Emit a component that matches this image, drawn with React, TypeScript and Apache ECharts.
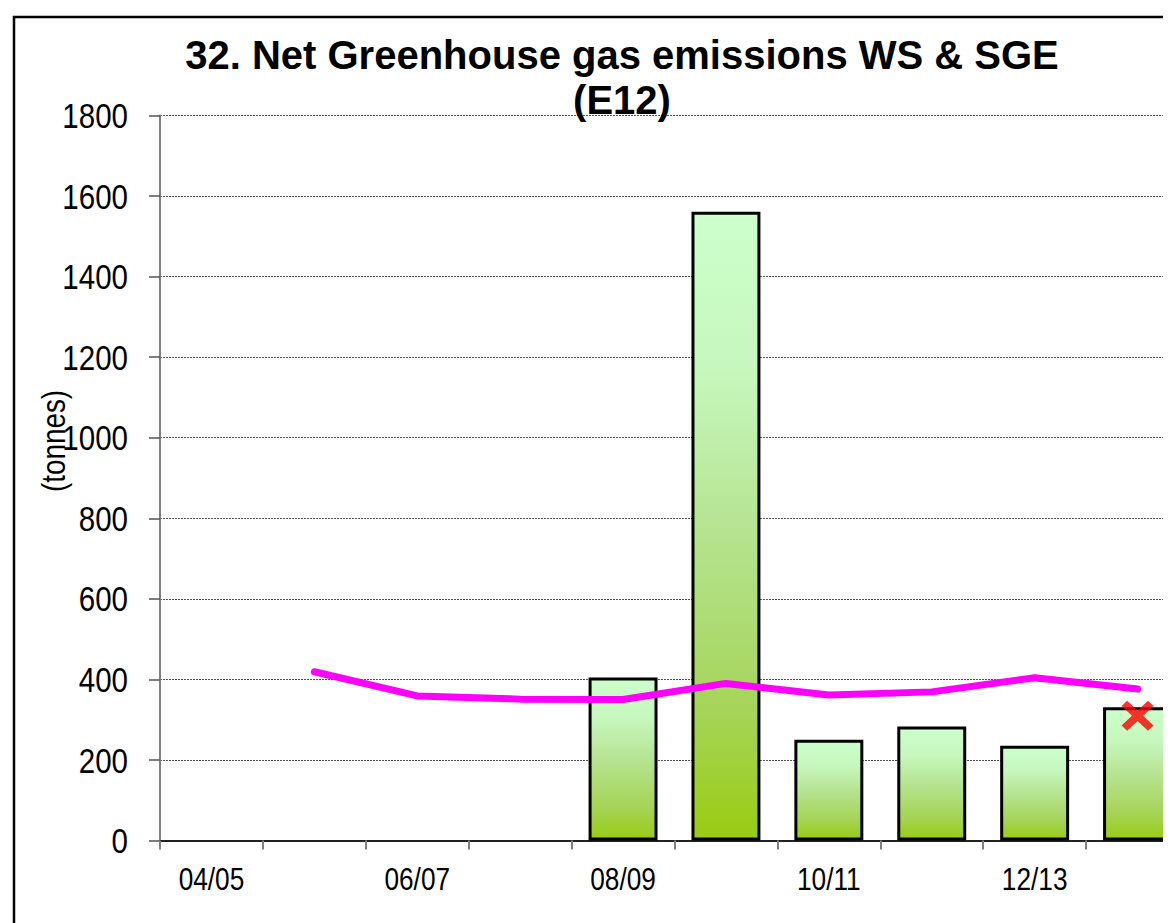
import React, { useEffect, useRef } from "react";
import * as echarts from "echarts";

const categories = ["04/05", "05/06", "06/07", "07/08", "08/09", "09/10", "10/11", "11/12", "12/13", "13/14"];
const xTickLabels = ["04/05", "06/07", "08/09", "10/11", "12/13"];
const barValues: (number | null)[] = [null, null, null, null, 405, 1561, 250, 283, 235, 331];
const lineValues: (number | null)[] = [null, 419, 359, 351, 350, 390, 361, 369, 404, 376];
const targetValues: (number | null)[] = [null, null, null, null, null, null, null, null, null, 310];
const yTickLabels = [0, 200, 400, 600, 800, 1000, 1200, 1400, 1600, 1800];
const yMin = 0;
const yMax = 1800;
const yInterval = 200;

const titleText = "32. Net Greenhouse gas emissions WS & SGE\n(E12)";
const yName = "(tonnes)";

const SANS = "'Liberation Sans', Arial, sans-serif";
const NARROW_SCALE = 0.82;

export default function App() {
  const ref = useRef<HTMLDivElement>(null);
  useEffect(() => {
    if (!ref.current) return;
    const chart = echarts.init(ref.current, undefined, { renderer: "svg" });
    const baseGraphics: any[] = [
      {
        id: "frame",
        type: "rect",
        shape: { x: 6, y: 9, width: 3000, height: 3000 },
        style: { fill: "none", stroke: "#000", lineWidth: 2.5 },
        silent: true,
        z: -10,
      },
      {
        id: "title",
        type: "text",
        x: 614,
        y: 24,
        style: {
          text: titleText,
          font: `bold 40px ${SANS}`,
          fill: "#000",
          textAlign: "center",
          textVerticalAlign: "top",
          lineHeight: 45,
        },
        z: 100,
      },
      {
        id: "yname",
        type: "text",
        x: 46,
        y: 433,
        rotation: Math.PI / 2,
        scaleX: NARROW_SCALE,
        style: {
          text: yName,
          font: `34px ${SANS}`,
          fill: "#000",
          textAlign: "center",
          textVerticalAlign: "middle",
        },
        z: 100,
      },
    ];
    chart.setOption({
      animation: false,
      backgroundColor: "#ffffff",
      grid: { left: 152, top: 107.5, width: 1029, height: 725, containLabel: false, outerBoundsMode: "none" },
      graphic: baseGraphics,
      xAxis: {
        type: "category",
        data: categories,
        boundaryGap: true,
        axisLine: { show: true, lineStyle: { color: "#222", width: 2 } },
        axisTick: { show: true, interval: 0, length: 9, lineStyle: { color: "#808080", width: 2 } },
        axisLabel: { show: false },
        splitLine: { show: false },
      },
      yAxis: {
        type: "value",
        min: yMin,
        max: yMax,
        interval: yInterval,
        axisLine: { show: true, lineStyle: { color: "#808080", width: 2 } },
        axisTick: { show: true, length: 11, lineStyle: { color: "#555", width: 1.5 } },
        axisLabel: { show: false },
        splitLine: { show: true, lineStyle: { color: "#555", width: 1, type: [2, 1] } },
      },
      series: [
        {
          type: "bar",
          data: barValues,
          barWidth: "67%",
          itemStyle: {
            borderColor: "#000",
            borderWidth: 3,
            color: new echarts.graphic.LinearGradient(0, 0, 0, 1, [
              { offset: 0, color: "#ccffcc" },
              { offset: 0.25, color: "#c6f7bd" },
              { offset: 0.5, color: "#b6e492" },
              { offset: 0.8, color: "#a5d457" },
              { offset: 1, color: "#99cc11" },
            ]),
          },
          z: 2,
        },
        {
          type: "line",
          data: lineValues,
          symbol: "none",
          connectNulls: false,
          lineStyle: { color: "#ff00ff", width: 7, cap: "round", join: "round" },
          itemStyle: { color: "#ff00ff" },
          z: 3,
        },
        {
          type: "scatter",
          data: targetValues,
          symbol:
            "path://M3.5,0 L10,6.5 L16.5,0 L20,3.5 L13.5,10 L20,16.5 L16.5,20 L10,13.5 L3.5,20 L0,16.5 L6.5,10 L0,3.5 Z",
          symbolSize: [32, 30],
          itemStyle: { color: "#ff0000" },
          z: 4,
        },
      ],
    });

    // Tick labels in a narrowed sans face, positioned through the axes' own scales
    const axisY0 = chart.convertToPixel({ yAxisIndex: 0 }, 0) as number;
    const axisX = 152;
    const labelGraphics: any[] = [];
    yTickLabels.forEach((v, i) => {
      const py = chart.convertToPixel({ yAxisIndex: 0 }, v) as number;
      labelGraphics.push({
        id: "ylab" + i,
        type: "text",
        x: axisX - 32,
        y: py,
        scaleX: NARROW_SCALE,
        style: {
          text: String(v),
          font: `36px ${SANS}`,
          fill: "#000",
          textAlign: "right",
          textVerticalAlign: "middle",
        },
        z: 50,
      });
    });
    xTickLabels.forEach((c, i) => {
      const px = chart.convertToPixel({ xAxisIndex: 0 }, c) as number;
      labelGraphics.push({
        id: "xlab" + i,
        type: "text",
        x: px,
        y: axisY0 + 39,
        scaleX: NARROW_SCALE,
        style: {
          text: c,
          font: `32px ${SANS}`,
          fill: "#000",
          textAlign: "center",
          textVerticalAlign: "middle",
        },
        z: 50,
      });
    });
    chart.setOption({ graphic: [...baseGraphics, ...labelGraphics] });

    return () => chart.dispose();
  }, []);
  return (
    <div style={{ width: 1163, height: 915, overflow: "hidden" }}>
      <div ref={ref} style={{ width: 1200, height: 915 }} />
    </div>
  );
}
